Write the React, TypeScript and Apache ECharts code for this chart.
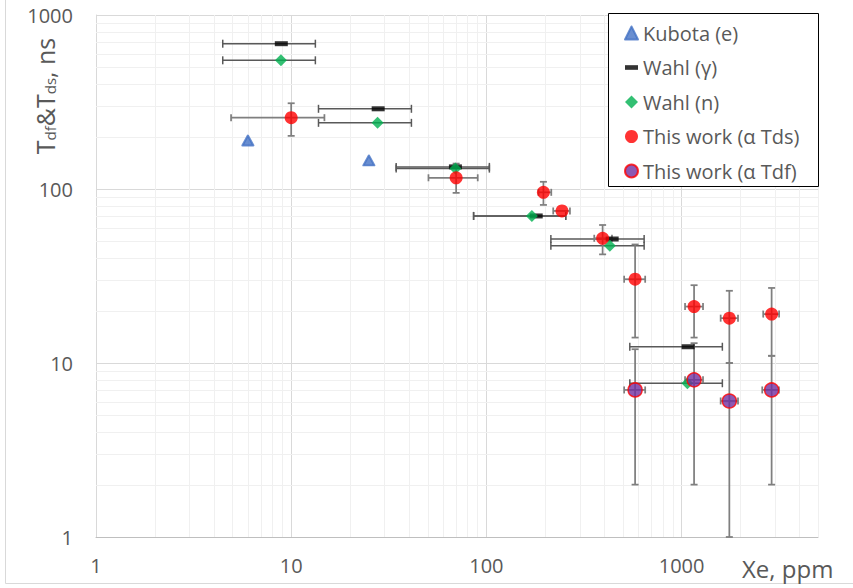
import React, { useEffect, useRef } from "react";
import * as echarts from "echarts";

// ---- data ----
const kubotaX = [6, 25];
const kubotaY = [190, 146];

const wahlGammaX = [8.9, 27.9, 69.4, 180, 441, 1080];
const wahlGammaY = [684, 289, 134, 70, 51.6, 12.4];
const wahlNX = [8.86, 27.7, 69.4, 171, 429, 1071];
const wahlNY = [549, 240, 131, 70, 47.2, 7.65];
const wahlXLow = [4.46, 13.8, 34.5, 86, 214, 543];
const wahlXHigh = [13.3, 41.3, 103.6, 255, 643, 1618];

const tdsX = [10, 70, 196, 244, 394, 578, 1159, 1757, 2893];
const tdsY = [257, 116, 95.7, 74.8, 52.1, 30.3, 21.1, 18.1, 19.1];
const tdsXLow = [4.92, 50.5, 185, 220, 357, 508, 1042, 1586, 2620];
const tdsXHigh = [14.8, 90.3, 215, 268, 440, 651, 1288, 1946, 3160];
const tdsYLow = [202, 95, 81, 74.8, 42.1, 14, 14, 10, 11];
const tdsYHigh = [311, 140, 110, 74.8, 62.1, 48, 28, 26, 27];

const tdfX = [578, 1159, 1757, 2893];
const tdfY = [7.0, 8.0, 6.05, 7.0];
const tdfXLow = [508, 1042, 1586, 2590];
const tdfXHigh = [651, 1288, 1946, 3154];
const tdfYLow = [2, 2, 1, 2];
const tdfYHigh = [12, 13, 10, 11];

const xTickMin = 1;
const xTickMax = 5000;
const yTickMin = 1;
const yTickMax = 1000;
const minorSteps = [2, 3, 4, 5, 6, 7, 8, 9];
const decadesX = [1, 10, 100, 1000];
const decadesY = [1, 10, 100];

const legendNames = [
  "Kubota (e)",
  "Wahl (γ)",
  "Wahl (n)",
  "This work (α Tds)",
  "This work (α Tdf)",
];

const FONT = "Open Sans";
const TEXT = "#595959";

function minorValues(decades: number[], max: number) {
  const out: number[] = [];
  decades.forEach((d) => minorSteps.forEach((s) => { if (d * s <= max) out.push(d * s); }));
  return out;
}

function errSeries(name: string, rows: number[][], color: string, cap: number, width: number) {
  return {
    type: "custom",
    name,
    silent: true,
    coordinateSystem: "cartesian2d",
    encode: { x: 0, y: 1 },
    data: rows,
    renderItem: (params: any, api: any) => {
      const x = api.value(0), y = api.value(1);
      const xl = api.value(2), xh = api.value(3), yl = api.value(4), yh = api.value(5);
      const c = api.coord([x, y]);
      const st = { stroke: color, lineWidth: width };
      const ch: any[] = [];
      const ln = (x1: number, y1: number, x2: number, y2: number) =>
        ch.push({ type: "line", shape: { x1, y1, x2, y2 }, style: st });
      if (xh > xl) {
        const a = api.coord([xl, y]);
        const b = api.coord([xh, y]);
        ln(a[0], c[1], b[0], c[1]);
        ln(a[0], c[1] - cap, a[0], c[1] + cap);
        ln(b[0], c[1] - cap, b[0], c[1] + cap);
      }
      if (yh > yl) {
        const a = api.coord([x, yl]);
        const b = api.coord([x, yh]);
        ln(c[0], a[1], c[0], b[1]);
        ln(c[0] - cap, a[1], c[0] + cap, a[1]);
        ln(c[0] - cap, b[1], c[0] + cap, b[1]);
      }
      return { type: "group", children: ch };
    },
  };
}

export default function App() {
  const ref = useRef<HTMLDivElement>(null);
  useEffect(() => {
    if (!ref.current) return;
    const chart = echarts.init(ref.current, null, { renderer: "svg" });

    const minorX = minorValues(decadesX, xTickMax);
    const minorY = minorValues(decadesY, yTickMax);

    const wahlGRows = wahlGammaX.map((x, i) => [x, wahlGammaY[i], wahlXLow[i], wahlXHigh[i], wahlGammaY[i], wahlGammaY[i]]);
    const wahlNRows = wahlNX.map((x, i) => [x, wahlNY[i], wahlXLow[i], wahlXHigh[i], wahlNY[i], wahlNY[i]]);
    const tdsRows = tdsX.map((x, i) => [x, tdsY[i], tdsXLow[i], tdsXHigh[i], tdsYLow[i], tdsYHigh[i]]);
    const tdfRows = tdfX.map((x, i) => [x, tdfY[i], tdfXLow[i], tdfXHigh[i], tdfYLow[i], tdfYHigh[i]]);

    const plain = (v: number) => String(Math.round(v));

    const option: any = {
      animation: false,
      backgroundColor: "#ffffff",
      grid: { left: 96, right: 35, top: 15, bottom: 51 },
      xAxis: {
        type: "log",
        logBase: 10,
        min: xTickMin,
        max: xTickMax,
        axisLine: { show: true, lineStyle: { color: "#bfbfbf", width: 1 } },
        axisTick: { show: false },
        axisLabel: { fontFamily: FONT, fontSize: 20, color: TEXT, margin: 18, showMaxLabel: false, formatter: plain },
        splitLine: { show: true, lineStyle: { color: "#d9d9d9", width: 1 } },
      },
      yAxis: {
        type: "log",
        logBase: 10,
        min: yTickMin,
        max: yTickMax,
        axisLine: { show: true, lineStyle: { color: "#d9d9d9", width: 1 } },
        axisTick: { show: false },
        axisLabel: { fontFamily: FONT, fontSize: 20, color: TEXT, margin: 23, formatter: plain },
        splitLine: { show: true, lineStyle: { color: "#d9d9d9", width: 1 } },
      },
      legend: {
        orient: "vertical",
        left: 624,
        top: 21,
        padding: 0,
        itemGap: 10.5,
        itemWidth: 13,
        itemHeight: 13,
        z: 10,
        textStyle: { fontFamily: FONT, fontSize: 20, color: TEXT, lineHeight: 24 },
        data: [
          { name: legendNames[0], icon: "triangle", itemWidth: 11, itemHeight: 11 },
          { name: legendNames[1], icon: "path://M0,0H14V5H0Z" },
          { name: legendNames[2], icon: "diamond", itemWidth: 11, itemHeight: 11 },
          { name: legendNames[3], icon: "circle" },
          { name: legendNames[4], icon: "circle" },
        ],
      },
      graphic: [
        {
          type: "rect",
          z: 3,
          shape: { x: 608.5, y: 13.5, width: 210, height: 173 },
          style: { fill: "#ffffff", stroke: "#000000", lineWidth: 1 },
        },
        {
          type: "line",
          shape: { x1: 5.5, y1: 0, x2: 5.5, y2: 583.5 },
          style: { stroke: "#d9d9d9", lineWidth: 1 },
        },
        {
          type: "line",
          shape: { x1: 5.5, y1: 583.5, x2: 853, y2: 583.5 },
          style: { stroke: "#d9d9d9", lineWidth: 1 },
        },
        {
          type: "text",
          x: 42,
          y: 96,
          rotation: Math.PI / 2,
          style: {
            text: "{m|T}{s|df}{m|&T}{s|ds}{m|, ns}",
            align: "center",
            verticalAlign: "middle",
            rich: {
              m: { fontFamily: FONT, fontSize: 25, fill: TEXT, lineHeight: 30, verticalAlign: "bottom" },
              s: { fontFamily: FONT, fontSize: 15, fill: TEXT, lineHeight: 12, verticalAlign: "bottom" },
            },
          },
        },
        {
          type: "text",
          x: 742,
          y: 568,
          style: {
            text: "Xe, ppm",
            fontFamily: FONT,
            fontSize: 24,
            fill: TEXT,
            align: "left",
            verticalAlign: "middle",
          },
        },
      ],
      series: [
        {
          type: "custom",
          name: "minor-grid",
          silent: true,
          coordinateSystem: "cartesian2d",
          encode: { x: 0, y: 1 },
          data: [[1, 1]],
          renderItem: (params: any, api: any) => {
            const cs = params.coordSys;
            const ch: any[] = [];
            minorX.forEach((v) => {
              const p = api.coord([v, 1]);
              const px = Math.round(p[0]) + 0.5;
              ch.push({ type: "line", shape: { x1: px, y1: cs.y, x2: px, y2: cs.y + cs.height }, style: { stroke: "#f0f0f0", lineWidth: 1 } });
            });
            minorY.forEach((v) => {
              const p = api.coord([1, v]);
              const py = Math.round(p[1]) + 0.5;
              ch.push({ type: "line", shape: { x1: cs.x, y1: py, x2: cs.x + cs.width, y2: py }, style: { stroke: "#f0f0f0", lineWidth: 1 } });
            });
            return { type: "group", children: ch };
          },
        },
        {
          type: "scatter",
          name: legendNames[0],
          data: kubotaX.map((x, i) => [x, kubotaY[i]]),
          symbol: "triangle",
          symbolSize: [11, 10],
          itemStyle: { color: "#4472C4", borderColor: "#4472C4", borderWidth: 2, borderJoin: "round" },
        },
        errSeries("err-wahl-g", wahlGRows, "#595959", 4, 1.5),
        {
          type: "scatter",
          name: legendNames[1],
          data: wahlGammaX.map((x, i) => [x, wahlGammaY[i]]),
          symbol: "rect",
          symbolSize: [13, 5],
          itemStyle: { color: "#000000" },
        },
        errSeries("err-wahl-n", wahlNRows, "#595959", 4, 1.5),
        {
          type: "scatter",
          name: legendNames[2],
          data: wahlNX.map((x, i) => [x, wahlNY[i]]),
          symbol: "diamond",
          symbolSize: [12, 12],
          itemStyle: { color: "#00B050" },
        },
        errSeries("err-tds", tdsRows, "#7f7f7f", 3.5, 1.75),
        {
          type: "scatter",
          name: legendNames[3],
          data: tdsX.map((x, i) => [x, tdsY[i]]),
          symbol: "circle",
          symbolSize: 13,
          itemStyle: { color: "#FF0000" },
        },
        errSeries("err-tdf", tdfRows, "#7f7f7f", 3.5, 1.75),
        {
          type: "scatter",
          name: legendNames[4],
          data: tdfX.map((x, i) => [x, tdfY[i]]),
          symbol: "circle",
          symbolSize: 14,
          itemStyle: { color: "#7030A0", borderColor: "#FF0000", borderWidth: 1.5 },
        },
      ],
    };
    chart.setOption(option);
    return () => chart.dispose();
  }, []);
  return <div ref={ref} style={{ width: 853, height: 588, position: "absolute", left: 0, top: 0 }} />;
}
